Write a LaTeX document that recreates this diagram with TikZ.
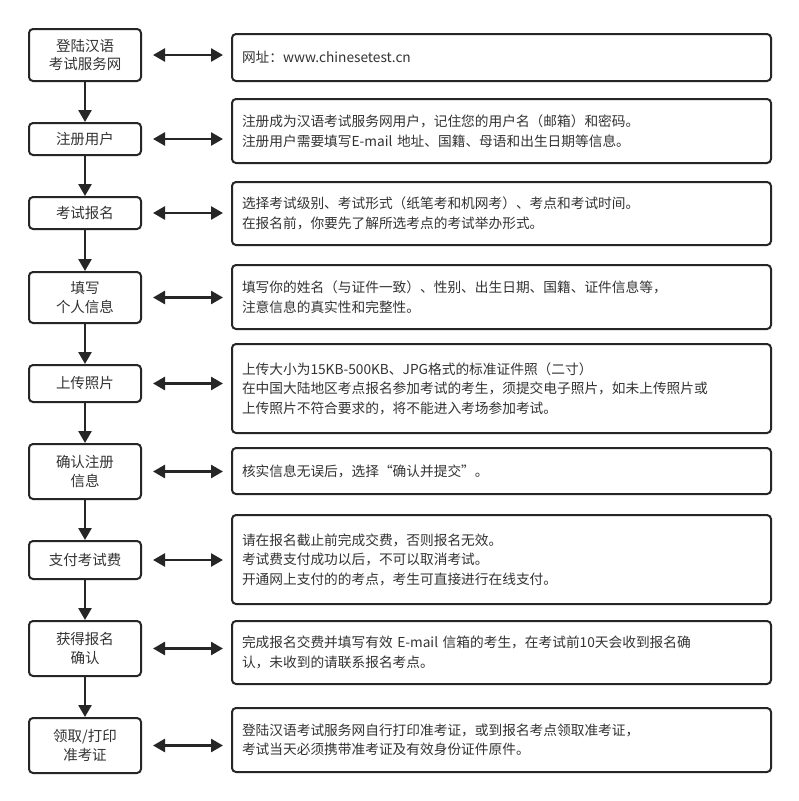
\documentclass[tikz,border=0pt]{standalone}
\usepackage{fontspec}
\setmainfont{Noto Sans CJK SC}
\usetikzlibrary{arrows.meta}
\definecolor{bd}{HTML}{262626}
\definecolor{tx}{HTML}{333333}
\tikzset{
  lbox/.style={draw=bd, line width=2pt, rounded corners=4pt, fill=white, text=tx,
    minimum width=112pt, align=center, inner sep=0pt,
    font=\fontsize{14.5}{18.5}\selectfont},
  rbox/.style={draw=bd, line width=2pt, rounded corners=4pt, fill=white, text=tx,
    anchor=west, text width=519pt, inner xsep=10pt, inner ysep=0pt, align=left,
    font=\fontsize{13.7}{19.5}\selectfont},
  flow/.style={draw=bd, line width=2.6pt, -{Triangle[length=12pt,width=13pt]}},
  dbl/.style={draw=bd, line width=2.6pt, {Triangle[length=12pt,width=13pt]}-{Triangle[length=12pt,width=13pt]}}
}
\begin{document}
\begin{tikzpicture}[x=1pt,y=-1pt]
\useasboundingbox (0,0) rectangle (799,801);
\fill[white] (0,0) rectangle (799,801);
% left steps
\node[lbox, minimum height=52pt] (L1) at (85,55) {登陆汉语\\考试服务网};
\node[lbox, minimum height=32pt] (L2) at (85,139) {注册用户};
\node[lbox, minimum height=32pt] (L3) at (85,213) {考试报名};
\node[lbox, minimum height=51pt] (L4) at (85,297.5) {填写\\个人信息};
\node[lbox, minimum height=37pt] (L5) at (85,383.5) {上传照片};
\node[lbox, minimum height=55pt] (L6) at (85,471.5) {确认注册\\信息};
\node[lbox, minimum height=38pt] (L7) at (85,560) {支付考试费};
\node[lbox, minimum height=55pt] (L8) at (85,648.5) {获得报名\\确认};
\node[lbox, minimum height=55pt] (L9) at (85,745.5) {领取/打印\\准考证};
% right descriptions
\node[rbox, minimum height=47pt] (R1) at (231,57.5) {网址：www.chinesetest.cn};
\node[rbox, minimum height=64pt] (R2) at (231,131) {注册成为汉语考试服务网用户，记住您的用户名（邮箱）和密码。\\注册用户需要填写E-mail 地址、国籍、母语和出生日期等信息。};
\node[rbox, minimum height=63pt] (R3) at (231,213.5) {选择考试级别、考试形式（纸笔考和机网考）、考点和考试时间。\\在报名前，你要先了解所选考点的考试举办形式。};
\node[rbox, minimum height=64pt] (R4) at (231,297) {填写你的姓名（与证件一致）、性别、出生日期、国籍、证件信息等，\\注意信息的真实性和完整性。};
\node[rbox, minimum height=89pt] (R5) at (231,388.5) {上传大小为15KB-500KB、JPG格式的标准证件照（二寸）\\在中国大陆地区考点报名参加考试的考生，须提交电子照片，如未上传照片或\\上传照片不符合要求的，将不能进入考场参加考试。};
\node[rbox, minimum height=46pt] (R6) at (231,471) {核实信息无误后，选择“确认并提交”。};
\node[rbox, minimum height=89pt] (R7) at (231,559.5) {请在报名截止前完成交费，否则报名无效。\\考试费支付成功以后，不可以取消考试。\\开通网上支付的的考点，考生可直接进行在线支付。};
\node[rbox, minimum height=63pt] (R8) at (231,652.5) {完成报名交费并填写有效 E-mail 信箱的考生，在考试前10天会收到报名确\\认，未收到的请联系报名考点。};
\node[rbox, minimum height=64pt] (R9) at (231,740) {登陆汉语考试服务网自行打印准考证，或到报名考点领取准考证，\\考试当天必须携带准考证及有效身份证件原件。};
% vertical flow
\foreach \a/\b in {L1/L2,L2/L3,L3/L4,L4/L5,L5/L6,L6/L7,L7/L8,L8/L9}
  \draw[flow] (\a.south) -- (\b.north);
% double arrows
\foreach \i in {1,...,9}
  \draw[dbl] ([xshift=11pt]L\i.east) -- ([xshift=-8pt]L\i.east -| R\i.west);
\end{tikzpicture}
\end{document}
